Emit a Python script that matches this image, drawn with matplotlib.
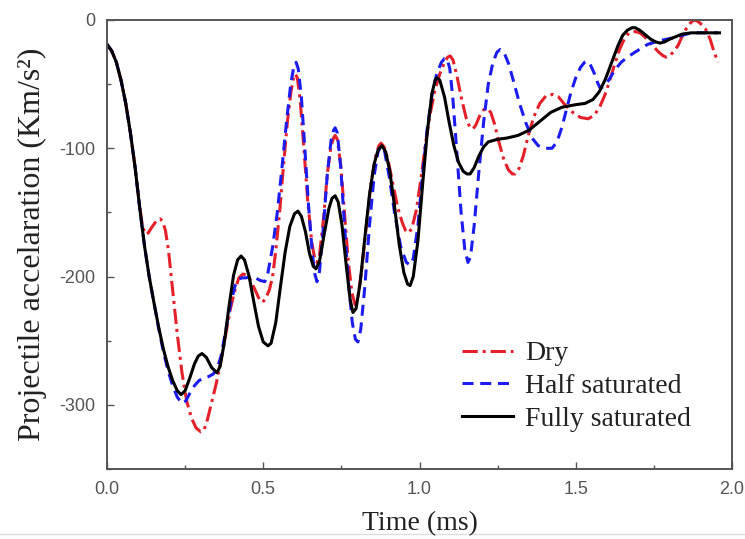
import numpy as np
import matplotlib
matplotlib.use('Agg')
import matplotlib.pyplot as plt
from matplotlib.lines import Line2D
from matplotlib.ticker import MultipleLocator

plt.rcParams['axes.unicode_minus'] = False

# values (time in ms, acceleration in Km/s^2)
t_full = [0.0, 0.015, 0.03, 0.045, 0.06, 0.075, 0.09, 0.105, 0.12, 0.135, 0.15, 0.165, 0.18, 0.195,
          0.21, 0.225, 0.237, 0.25, 0.265, 0.28, 0.292, 0.304, 0.318, 0.335, 0.352, 0.362, 0.375,
          0.39, 0.405, 0.418, 0.429, 0.44, 0.455, 0.47, 0.485, 0.5, 0.515, 0.525, 0.54, 0.555,
          0.57, 0.585, 0.6, 0.611, 0.622, 0.635, 0.648, 0.66, 0.669, 0.68, 0.695, 0.71, 0.72,
          0.73, 0.74, 0.752, 0.765, 0.778, 0.787, 0.797, 0.81, 0.825, 0.84, 0.855, 0.868, 0.88,
          0.892, 0.905, 0.92, 0.935, 0.95, 0.962, 0.97, 0.98, 0.995, 1.01, 1.025, 1.04, 1.05,
          1.056, 1.065, 1.08, 1.095, 1.11, 1.125, 1.14, 1.152, 1.162, 1.175, 1.19, 1.205, 1.22,
          1.25, 1.28, 1.315, 1.35, 1.38, 1.42, 1.456, 1.50, 1.53, 1.555, 1.575, 1.595, 1.615,
          1.635, 1.65, 1.665, 1.68, 1.69, 1.705, 1.72, 1.74, 1.755, 1.77, 1.785, 1.80, 1.82,
          1.84, 1.87, 1.91, 1.96]
a_full = [-19, -24, -33, -47, -65, -88, -115, -147, -176, -200, -220, -239, -256, -270,
          -281, -289, -292, -289, -279, -268, -262, -260, -263, -271, -275, -270, -252,
          -224, -199, -187, -184, -187, -200, -220, -239, -251, -254, -252, -236, -208,
          -181, -161, -151, -149, -153, -165, -182, -192, -194, -188, -167, -147, -139,
          -137, -142, -160, -190, -218, -228, -225, -205, -170, -136, -112, -101, -98,
          -103, -118, -145, -175, -197, -206, -207, -200, -172, -128, -87, -57, -47,
          -45, -47, -60, -80, -98, -111, -118, -120, -120, -115, -106, -99, -95,
          -93, -92, -90, -86, -80, -72, -68, -66, -65, -62, -56, -46, -33,
          -20, -12, -8, -6, -6, -8, -11, -15, -17, -18, -17, -15, -13,
          -11, -10, -10, -10]

t_half = [0.0, 0.015, 0.03, 0.045, 0.06, 0.075, 0.09, 0.105, 0.12, 0.135, 0.15, 0.165, 0.18, 0.195,
          0.21, 0.225, 0.24, 0.252, 0.265, 0.28, 0.295, 0.31, 0.325, 0.34, 0.352, 0.365, 0.38,
          0.395, 0.41, 0.422, 0.432, 0.445, 0.46, 0.475, 0.49, 0.505, 0.515, 0.53, 0.545, 0.56,
          0.575, 0.588, 0.598, 0.605, 0.612, 0.622, 0.633, 0.645, 0.657, 0.665, 0.672, 0.68,
          0.693, 0.705, 0.717, 0.725, 0.73, 0.737, 0.748, 0.76, 0.772, 0.785, 0.795, 0.803,
          0.812, 0.825, 0.84, 0.855, 0.867, 0.877, 0.888, 0.903, 0.92, 0.94, 0.958, 0.97, 0.98,
          0.995, 1.01, 1.025, 1.04, 1.055, 1.07, 1.08, 1.088, 1.097, 1.107, 1.12, 1.133, 1.145,
          1.155, 1.163, 1.175, 1.19, 1.205, 1.22, 1.235, 1.248, 1.258, 1.27, 1.285, 1.3, 1.32,
          1.34, 1.36, 1.38, 1.4, 1.424, 1.44, 1.455, 1.47, 1.485, 1.5, 1.515, 1.528, 1.536,
          1.545, 1.56, 1.57, 1.578, 1.59, 1.605, 1.625, 1.645, 1.665, 1.69, 1.73, 1.77, 1.81,
          1.84, 1.87, 1.955]
a_half = [-19, -24, -33, -47, -65, -88, -115, -147, -176, -200, -220, -240, -258, -273,
          -285, -294, -299, -297, -291, -285, -281, -279, -278, -276, -272, -262, -242,
          -222, -207, -202, -201, -201, -200, -201, -203, -204, -197, -177, -150, -115,
          -78, -50, -36, -33, -38, -60, -100, -145, -182, -198, -204, -196,
          -160, -120, -94, -86, -84, -88, -115, -160, -203, -236, -249, -251,
          -241, -208, -160, -121, -103, -98, -102, -122, -150, -177, -189, -191, -186,
          -160, -120, -84, -58, -42, -33, -30, -30, -38, -62, -105, -150, -179,
          -189, -185, -160, -118, -80, -50, -33, -25, -23, -25, -34, -47, -65,
          -80, -92, -98, -100, -100, -95, -84, -70, -56, -45, -37, -33, -32,
          -34, -42, -49, -53, -52, -47, -39, -33, -29, -25, -19, -16, -14,
          -12, -10, -10]

t_dry = [0.0, 0.015, 0.03, 0.045, 0.06, 0.075, 0.09, 0.103, 0.113, 0.122, 0.132, 0.145, 0.16, 0.17,
         0.178, 0.187, 0.197, 0.21, 0.225, 0.24, 0.255, 0.27, 0.285, 0.3, 0.31, 0.322, 0.335,
         0.35, 0.365, 0.38, 0.395, 0.41, 0.422, 0.435, 0.448, 0.46, 0.475, 0.488, 0.498, 0.508,
         0.52, 0.53, 0.54, 0.553, 0.565, 0.577, 0.588, 0.596, 0.602, 0.609, 0.618, 0.63, 0.642,
         0.655, 0.664, 0.672, 0.68, 0.692, 0.705, 0.717, 0.725, 0.73, 0.737, 0.748, 0.76, 0.772,
         0.784, 0.794, 0.803, 0.815, 0.83, 0.845, 0.86, 0.87, 0.877, 0.887, 0.9, 0.915, 0.93,
         0.945, 0.955, 0.963, 0.975, 0.99, 1.005, 1.02, 1.035, 1.05, 1.065, 1.08, 1.09, 1.098,
         1.107, 1.12, 1.135, 1.15, 1.16, 1.171, 1.18, 1.192, 1.205, 1.216, 1.228, 1.24, 1.255,
         1.27, 1.285, 1.297, 1.306, 1.318, 1.332, 1.348, 1.365, 1.385, 1.405, 1.427, 1.445,
         1.465, 1.49, 1.515, 1.54, 1.56, 1.578, 1.594, 1.61, 1.625, 1.64, 1.655, 1.67, 1.69,
         1.705, 1.72, 1.735, 1.75, 1.765, 1.78, 1.79, 1.8, 1.812, 1.827, 1.84, 1.855, 1.868,
         1.878, 1.89, 1.9, 1.915, 1.93, 1.94, 1.955]
a_dry = [-19, -24, -33, -47, -65, -88, -115, -142, -160, -167, -166, -161, -156, -155,
         -157, -164, -180, -210, -245, -275, -297, -310, -318, -321, -320, -311, -298,
         -283, -265, -245, -225, -210, -201, -198, -199, -203, -211, -218, -220, -217,
         -210, -200, -180, -148, -113, -80, -57, -46, -42, -45, -62, -100, -140,
         -173, -185, -189, -183, -157, -120, -98, -92, -90, -93, -113, -150, -188,
         -213, -222, -216, -195, -160, -127, -106, -98, -96, -99, -110, -128, -146,
         -158, -164, -166, -163, -148, -123, -95, -72, -54, -42, -33, -29, -28,
         -31, -44, -62, -77, -83, -85, -82, -75, -70, -69, -72, -81, -96,
         -109, -117, -120, -120, -116, -106, -90, -76, -65, -59, -58, -60,
         -66, -72, -76, -77, -74, -67, -58, -46, -34, -23, -15, -10, -9,
         -10, -13, -17, -21, -25, -28, -29, -28, -25, -20, -13, -6, -2,
         0, -1, -3, -7, -15, -23, -33]

fig = plt.figure(figsize=(7.45, 5.39), dpi=100)
ax = fig.add_axes([0.1436, 0.1299, 0.8390, 0.8330])

ax.plot(t_dry, a_dry, color='#e4202a', linestyle=(0, (5, 1.6, 1, 1.6)), linewidth=2.2, label='Dry')
ax.plot(t_half, a_half, color='#1c1cf0', linestyle=(0, (3.6, 2.2)), linewidth=2.2, label='Half saturated')
ax.plot(t_full, a_full, color='black', linestyle='-', linewidth=2.2, label='Fully saturated')

ax.set_xlim(0, 2.0)
ax.set_ylim(-350, 0)
ax.xaxis.set_major_locator(MultipleLocator(0.5))
ax.xaxis.set_minor_locator(MultipleLocator(0.25))
ax.yaxis.set_major_locator(MultipleLocator(100))
ax.yaxis.set_minor_locator(MultipleLocator(50))
ax.set_xticklabels([f'{v:.1f}' for v in ax.get_xticks()])
ax.tick_params(which='both', direction='in', top=False, right=False, colors='#555555', width=1)
ax.tick_params(which='major', length=5, labelsize=13)
ax.tick_params(axis='x', which='major', pad=9)
ax.tick_params(axis='y', which='major', pad=8)
ax.tick_params(which='minor', length=3)
for lab in ax.get_xticklabels() + ax.get_yticklabels():
    lab.set_family('Liberation Sans')
for s in ax.spines.values():
    s.set_color('#555555')
    s.set_linewidth(1.4)

serif = ['Liberation Serif', 'DejaVu Serif']
ax.set_xlabel('Time (ms)', family=serif, fontsize=20, color='#222222', labelpad=9)
ax.set_ylabel('Projectile accelaration (Km/s²)', family=serif, fontsize=23, color='#222222', labelpad=9)

leg = ax.legend(loc='upper left', bbox_to_anchor=(0.568, 0.285), frameon=False,
                prop={'family': serif, 'size': 20}, handlelength=1.83, handletextpad=0.43,
                labelspacing=0.26, borderpad=0, borderaxespad=0)
for txt in leg.get_texts():
    txt.set_color('#222222')

fig.add_artist(Line2D([0, 1], [0.009, 0.009], color='#dddddd', linewidth=1, zorder=-1))

fig.savefig('out.png', dpi=100)
